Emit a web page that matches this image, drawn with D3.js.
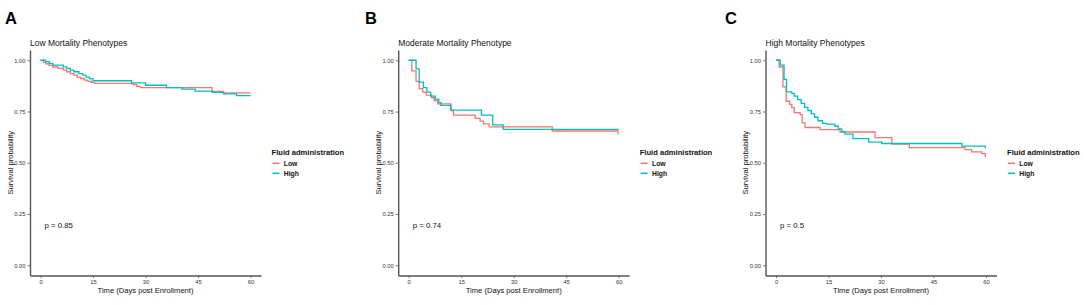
<!DOCTYPE html>
<html>
<head>
<meta charset="utf-8">
<script src="https://cdn.jsdelivr.net/npm/d3@7"></script>
<style>
  body { margin: 0; background: #fff; }
  text { font-family: "Liberation Sans", Arial, sans-serif; }
</style>
</head>
<body>
<div id="chart"></div>
<script>
// Kaplan-Meier steps: [day, survival after the step]
const lowA = [[0,1],[0.8,0.99],[1.5,0.983],[2.5,0.975],[3.5,0.967],[5,0.96],[6.5,0.952],[7.5,0.944],[8.5,0.935],[9.5,0.927],[10.5,0.918],[11.5,0.911],[12.5,0.903],[13.5,0.897],[14.5,0.892],[15.5,0.887],[26.5,0.881],[27.5,0.873],[28.5,0.866],[49,0.848],[52.3,0.841]];
const highA = [[0,1],[1.5,0.993],[2.5,0.985],[3.5,0.976],[6.5,0.968],[7.5,0.96],[8.5,0.952],[9.5,0.944],[11,0.935],[12,0.927],[13,0.918],[14,0.91],[15,0.9],[26,0.89],[30,0.878],[36,0.866],[40.4,0.859],[44.2,0.849],[49,0.843],[52.3,0.836],[56,0.827]];

const lowB = [[0,1],[0.9,0.948],[2.1,0.897],[3,0.862],[4,0.845],[5,0.83],[6.5,0.817],[7.3,0.803],[8.3,0.787],[12,0.755],[12.8,0.732],[19,0.716],[20.4,0.703],[21.4,0.69],[23,0.675],[41,0.655],[59.8,0.642]];
const highB = [[0,1],[2.1,0.958],[3,0.893],[4.2,0.866],[5.2,0.845],[6.3,0.825],[7.6,0.81],[8.6,0.793],[9.2,0.78],[12.1,0.757],[20.8,0.732],[24,0.685],[27,0.663]];

const lowC = [[0,1],[0.9,0.967],[2,0.87],[2.9,0.8],[3.9,0.785],[4.5,0.769],[5.2,0.745],[6.9,0.735],[7.5,0.695],[8.3,0.672],[12.6,0.662],[18.3,0.65],[28.3,0.623],[33.1,0.591],[38.1,0.574],[54,0.564],[55.9,0.553],[58.8,0.545],[59.8,0.533]];
const highC = [[0,1],[1.2,0.976],[2.3,0.907],[3,0.846],[4.5,0.838],[5.2,0.825],[6.2,0.808],[7.2,0.79],[8.2,0.77],[9.1,0.755],[10.1,0.738],[11,0.722],[12,0.705],[13.3,0.692],[14.5,0.688],[16.8,0.678],[17.8,0.665],[18.8,0.652],[19.7,0.64],[22,0.618],[26.5,0.601],[30.2,0.594],[53.1,0.581],[59.8,0.574]];

const panelLetters = ["A", "B", "C"];
const panelTitles = ["Low Mortality Phenotypes", "Moderate Mortality Phenotype", "High Mortality Phenotypes"];
const pLabels = ["p = 0.85", "p = 0.74", "p = 0.5"];
const lowSeries = [lowA, lowB, lowC];
const highSeries = [highA, highB, highC];
const groupNames = ["Low", "High"];
const groupColors = ["#F8766D", "#00BFC4"];
const xTicks = [0, 15, 30, 45, 60];
const yTicks = [0, 0.25, 0.5, 0.75, 1];
const endDay = 60;

const W = 1084, H = 305;
const panelLeft = [30, 398.2, 765.5];  // left edge of each plotting area
const plotW = 231, plotTop = 50, plotBottom = 275.5;

const svg = d3.select("#chart").append("svg")
    .attr("width", W)
    .attr("height", H);

const x = d3.scaleLinear().domain([-3, 63]).range([0, plotW]);
const y = d3.scaleLinear().domain([-0.05, 1.05]).range([plotBottom, plotTop]);

const line = d3.line()
    .curve(d3.curveStepAfter)
    .x(d => x(d[0]))
    .y(d => y(d[1]));

panelLetters.forEach((letter, i) => {
    const L = panelLeft[i];

    // panel letter
    svg.append("text")
        .attr("x", 5 + i * 360)
        .attr("y", 23.5)
        .attr("font-size", "16.5px")
        .attr("font-weight", "bold")
        .text(letter);

    const g = svg.append("g").attr("transform", `translate(${L},0)`);

    // title
    g.append("text")
        .attr("x", 0)
        .attr("y", 45.5)
        .attr("font-size", "8.5px")
        .attr("fill", "#111")
        .text(panelTitles[i]);

    // axes
    const xAxis = g.append("g")
        .attr("transform", `translate(0,${plotBottom})`)
        .call(d3.axisBottom(x).tickValues(xTicks).tickSize(2.5).tickSizeOuter(0).tickPadding(2));
    const yAxis = g.append("g")
        .call(d3.axisLeft(y).tickValues(yTicks).tickSize(2.5).tickSizeOuter(0).tickPadding(2)
            .tickFormat(d3.format(".2f")));
    [xAxis, yAxis].forEach(a => {
        a.select(".domain").attr("stroke", "#555").attr("stroke-width", 1.4);
        a.selectAll(".tick line").attr("stroke", "#555").attr("stroke-width", 0.8);
        a.selectAll(".tick text").attr("font-size", "5.8px").attr("fill", "#333")
            .attr("font-family", "'Liberation Sans', Arial, sans-serif");
    });

    // axis titles
    g.append("text")
        .attr("x", plotW / 2)
        .attr("y", 293)
        .attr("text-anchor", "middle")
        .attr("font-size", "7.6px")
        .attr("fill", "#111")
        .text("Time (Days post Enrollment)");
    g.append("text")
        .attr("transform", `translate(-17.5,${(plotTop + plotBottom) / 2}) rotate(-90)`)
        .attr("text-anchor", "middle")
        .attr("font-size", "7.6px")
        .attr("fill", "#111")
        .text("Survival probability");

    // curves
    [lowSeries[i], highSeries[i]].forEach((s, k) => {
        const pts = s.concat([[endDay, s[s.length - 1][1]]]);
        g.append("path")
            .datum(pts)
            .attr("fill", "none")
            .attr("stroke", groupColors[k])
            .attr("stroke-width", 1.3)
            .attr("d", line);
    });

    // p value
    g.append("text")
        .attr("x", 14.5)
        .attr("y", 227.8)
        .attr("font-size", "7.8px")
        .attr("fill", "#111")
        .text(pLabels[i]);

    // legend
    const lg = g.append("g").attr("transform", `translate(${plotW + 10.5},0)`);
    lg.append("text")
        .attr("x", 0)
        .attr("y", 154.5)
        .attr("font-size", "7.6px")
        .attr("font-weight", "bold")
        .attr("fill", "#111")
        .text("Fluid administration");
    groupNames.forEach((name, k) => {
        const yy = 163.3 + k * 10;
        lg.append("line")
            .attr("x1", 1).attr("x2", 8)
            .attr("y1", yy).attr("y2", yy)
            .attr("stroke", groupColors[k])
            .attr("stroke-width", 1.5);
        lg.append("text")
            .attr("x", 12.3)
            .attr("y", yy + 2.4)
            .attr("font-size", "6.8px")
            .attr("font-weight", "bold")
            .attr("fill", "#111")
            .text(name);
    });
});
</script>
</body>
</html>
